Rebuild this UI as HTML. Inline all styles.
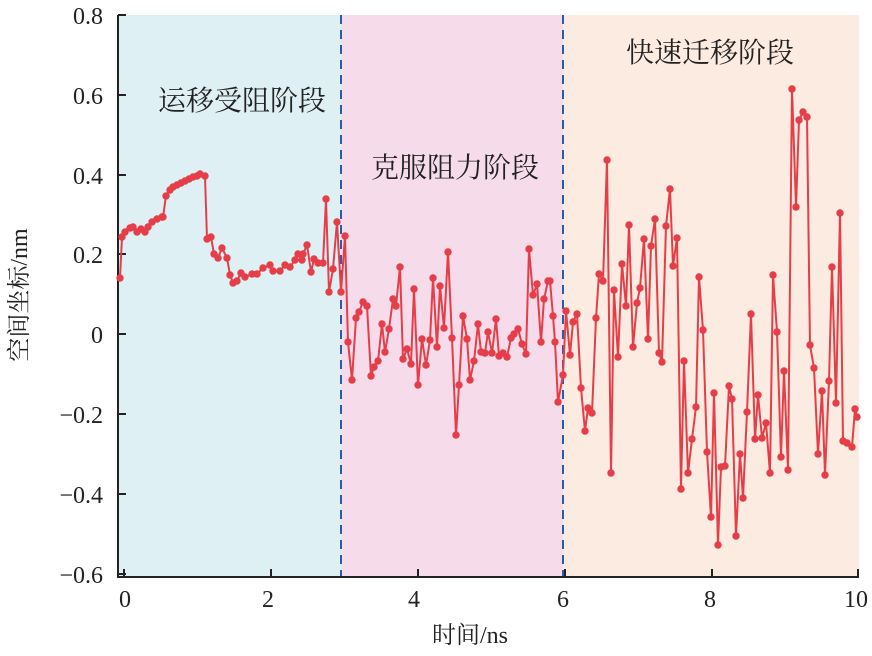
<!DOCTYPE html>
<html><head><meta charset="utf-8"><style>
body{margin:0;background:#fff}
svg text{font-family:"Liberation Serif","Noto Serif CJK SC",serif;fill:#222}
</style></head><body>
<svg width="872" height="651" xmlns="http://www.w3.org/2000/svg">
<defs><marker id="m" markerUnits="userSpaceOnUse" markerWidth="10" markerHeight="10" refX="5" refY="5" overflow="visible"><circle cx="5" cy="5" r="3.7" fill="#e63e48"/></marker></defs>
<rect x="118" y="15" width="223" height="562" fill="#dff0f5"/>
<rect x="341" y="15" width="222" height="562" fill="#f6dcea"/>
<rect x="563" y="15" width="296" height="562" fill="#fcebe0"/>
<line x1="341" y1="15" x2="341" y2="577" stroke="#2a5caa" stroke-width="2" stroke-dasharray="9,6"/>
<line x1="563" y1="15" x2="563" y2="577" stroke="#2a5caa" stroke-width="2" stroke-dasharray="9,6"/>
<g stroke="#222" stroke-width="2">
<line x1="118" y1="15" x2="118" y2="578"/>
<line x1="117" y1="577" x2="859" y2="577"/>
<line x1="118" y1="15" x2="126" y2="15"/><line x1="118" y1="95" x2="126" y2="95"/><line x1="118" y1="175" x2="126" y2="175"/><line x1="118" y1="254" x2="126" y2="254"/><line x1="118" y1="334" x2="126" y2="334"/><line x1="118" y1="414" x2="126" y2="414"/><line x1="118" y1="494" x2="126" y2="494"/><line x1="118" y1="574" x2="126" y2="574"/>
<line x1="124" y1="577" x2="124" y2="569"/><line x1="271" y1="577" x2="271" y2="569"/><line x1="418" y1="577" x2="418" y2="569"/><line x1="565" y1="577" x2="565" y2="569"/><line x1="712" y1="577" x2="712" y2="569"/><line x1="858" y1="577" x2="858" y2="569"/>
</g>
<g font-size="24" text-anchor="end">
<text x="103" y="24">0.8</text><text x="103" y="104">0.6</text><text x="103" y="184">0.4</text><text x="103" y="263">0.2</text><text x="103" y="343">0</text><text x="103" y="423">−0.2</text><text x="103" y="503">−0.4</text><text x="103" y="583">−0.6</text>
</g>
<g font-size="24" text-anchor="middle">
<text x="125" y="607">0</text><text x="268" y="607">2</text><text x="414" y="607">4</text><text x="563" y="607">6</text><text x="710" y="607">8</text><text x="856" y="607">10</text>
<text x="470" y="643">时间/ns</text>
<text x="242" y="110" font-size="28">运移受阻阶段</text>
<text x="455" y="177" font-size="28">克服阻力阶段</text>
<text x="710" y="62" font-size="28">快速迁移阶段</text>
<text transform="translate(27,295) rotate(-90)">空间坐标/nm</text>
</g>
<polyline fill="none" stroke="#e63e48" stroke-width="2" marker-start="url(#m)" marker-mid="url(#m)" marker-end="url(#m)" points="120,278 122,237 125,232 130,228 133,227 137,232 141,229 145,232 148,227 152,222 157,219 162,217 163,217 166,196 170,190 173,187 177,185 181,183 185,181 189,179 193,177 197,176 200,174 205,176 207,239 211,237 214,254 218,258 222,248 227,258 230,275 233,283 237,281 241,273 245,277 252,274 257,274 263,268 270,265 273,271 280,271 285,265 290,267 295,260 298,254 302,260 303,254 307,245 311,272 314,259 318,263 323,263 326,199 329,292 333,269 337,222 341,292 345,236 348,342 352,380 356,318 359,312 363,302 367,306 371,376 374,367 378,361 382,324 385,352 389,329 393,299 396,306 400,267 403,359 407,349 411,364 414,289 418,385 422,339 426,365 430,340 433,278 437,347 440,286 444,328 448,252 452,338 456,435 459,385 463,316 467,339 470,380 474,361 478,324 481,352 485,353 488,332 492,353 496,319 499,356 503,353 507,357 511,338 514,334 518,329 522,344 526,354 529,249 533,295 537,284 541,342 544,299 548,281 550,281 553,316 555,342 558,402 563,375 566,311 570,355 573,322 577,314 581,388 585,431 588,408 592,413 596,318 599,274 603,281 607,160 611,473 614,290 618,357 622,264 626,306 629,225 633,347 637,303 640,288 644,239 648,339 651,246 655,219 659,353 662,362 666,226 670,189 673,266 677,238 681,489 684,361 688,473 692,439 696,407 699,277 703,330 707,452 711,517 714,393 718,545 721,467 725,466 729,386 732,399 736,536 740,454 743,498 747,412 751,314 755,439 758,395 762,438 766,423 770,473 773,275 777,332 781,457 784,371 788,470 792,89 796,207 799,120 803,112 807,117 810,345 814,368 818,454 822,391 825,475 829,381 832,267 836,403 840,213 843,441 847,443 852,447 855,409 857,417"/>
</svg>
</body></html>
